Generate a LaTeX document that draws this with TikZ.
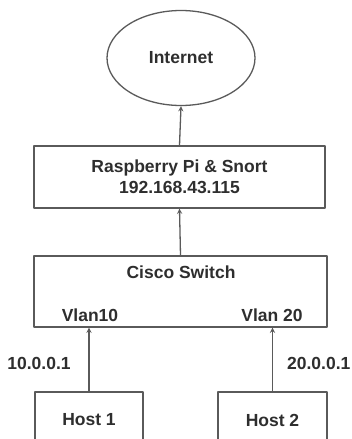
\documentclass[tikz,border=0pt]{standalone}
\usepackage{fontspec}
\setmainfont{Liberation Sans}
\usetikzlibrary{shapes.geometric}
\definecolor{linegray}{HTML}{5A5A5A}
\definecolor{textgray}{HTML}{2E2E2E}
\tikzset{
	box/.style={draw=linegray, line width=1.3pt, rectangle, inner sep=0pt},
	lbl/.style={text=textgray, font=\bfseries\fontsize{17.5}{21.5}\selectfont, inner sep=0pt}
}
\begin{document}
\begin{tikzpicture}[x=1pt, y=-1pt, line width=1.3pt, line join=round, >=stealth]
	%% khung hinh
	\useasboundingbox (0,0) rectangle (352,439);
	\clip (0,0) rectangle (352,439);
	%% cac nut
	\node[box, ellipse, minimum width=148pt, minimum height=95pt, lbl] (inet) at (181,58) {Internet};
	\node[box, minimum width=291pt, minimum height=62pt, lbl, align=center] (rpi) at (179.5,177) {Raspberry Pi \& Snort\\192.168.43.115};
	\node[box, minimum width=293pt, minimum height=71pt] (sw) at (180.5,291.5) {};
	\node[lbl] (swname) at (181,272) {Cisco Switch};
	\node[lbl] (v10) at (90,315) {Vlan10};
	\node[lbl] (v20) at (272,315) {Vlan 20};
	\node[box, minimum width=108pt, minimum height=56pt, lbl] (h1) at (89,420) {Host 1};
	\node[box, minimum width=109pt, minimum height=56pt, lbl] (h2) at (272.5,420) {Host 2};
	\node[lbl] (ip1) at (39,363) {10.0.0.1};
	\node[lbl, anchor=east] (ip2) at (351,363) {20.0.0.1};
	%% mui ten
	\draw[->, linegray] (rpi.north) -- (inet.south);
	\draw[->, linegray] (sw.north) -- (rpi.south);
	\foreach \h in {h1,h2}
	\draw[->, linegray] (\h.north) -- (\h.north |- sw.south);
\end{tikzpicture}
\end{document}
